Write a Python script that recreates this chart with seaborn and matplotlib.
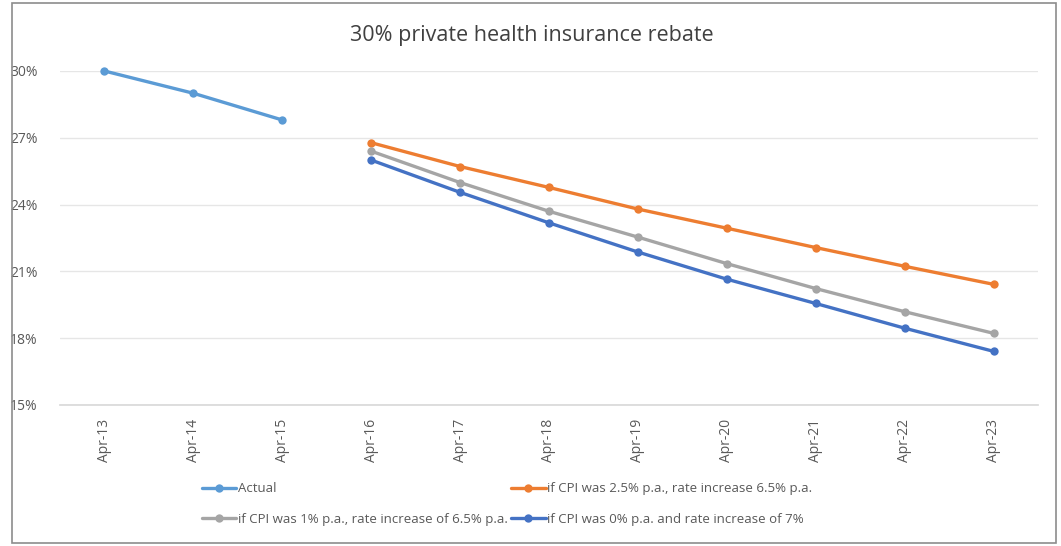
import numpy as np
import pandas as pd
import matplotlib
matplotlib.use("Agg")
import matplotlib.pyplot as plt
import seaborn as sns
from matplotlib.patches import Rectangle

categories = ["Apr-13", "Apr-14", "Apr-15", "Apr-16", "Apr-17", "Apr-18",
              "Apr-19", "Apr-20", "Apr-21", "Apr-22", "Apr-23"]
actual = [30.0, 29.0, 27.8, None, None, None, None, None, None, None, None]
cpi_25 = [None, None, None, 26.78, 25.71, 24.77, 23.8, 22.94, 22.07, 21.23, 20.42]
cpi_1 = [None, None, None, 26.4, 24.99, 23.7, 22.54, 21.35, 20.23, 19.19, 18.22]
cpi_0 = [None, None, None, 26.0, 24.55, 23.18, 21.87, 20.65, 19.56, 18.45, 17.41]

series_names = ["Actual",
                "if CPI was 2.5% p.a., rate increase 6.5% p.a.",
                "if CPI was 1% p.a., rate increase of 6.5% p.a.",
                "if CPI was 0% p.a. and rate increase of 7%"]
series_values = [actual, cpi_25, cpi_1, cpi_0]
colors = ["#5B9BD5", "#ED7D31", "#A5A5A5", "#4472C4"]
y_ticks = [15, 18, 21, 24, 27, 30]

sns.set_theme(style="white")
plt.rcParams['font.family'] = ['Open Sans', 'DejaVu Sans']

W, H = 1061, 546
fig = plt.figure(figsize=(W / 100, H / 100), dpi=100)
ax = fig.add_axes([60 / W, 1 - 405 / H, (1038 - 60) / W, (405 - 71) / H])

for name, vals, col in zip(series_names, series_values, colors):
    df = pd.DataFrame({"x": np.arange(len(categories)), "y": vals}).dropna()
    sns.lineplot(data=df, x="x", y="y", ax=ax, color=col, linewidth=2.4,
                 marker="o", markersize=6, markeredgewidth=0, label=name,
                 clip_on=False)

ax.set_xlim(-0.5, len(categories) - 0.5)
ax.set_ylim(15, 30)
ax.set_yticks(y_ticks)
ax.set_yticklabels([f"{v}%" for v in y_ticks], color="#595959", fontsize=10)
ax.set_xticks(np.arange(len(categories)))
ax.set_xticklabels(categories, rotation=90, color="#595959", fontsize=10)
ax.set_xticks(np.arange(len(categories) + 1) - 0.5, minor=True)
ax.tick_params(axis="x", which="major", length=0, pad=10)
ax.tick_params(axis="x", which="minor", length=5, color="#D9D9D9", width=1, direction="out")
ax.tick_params(axis="y", length=0, pad=16)
ax.set_xlabel("")
ax.set_ylabel("")
ax.grid(axis="y", color="#E6E6E6", linewidth=1)
ax.set_axisbelow(True)
for s in ["top", "right", "left"]:
    ax.spines[s].set_visible(False)
ax.spines["bottom"].set_color("#D9D9D9")

fig.text(532 / W, 1 - 35 / H, "30% private health insurance rebate",
         ha="center", va="center", fontsize=15.5, color="#404040")

handles, labels = ax.get_legend_handles_labels()
order = [0, 2, 1, 3]
ax.legend([handles[i] for i in order], [labels[i] for i in order], ncol=2,
          loc="center left",
          bbox_to_anchor=(190 / W, 1 - 504 / H), bbox_transform=fig.transFigure,
          frameon=False, fontsize=9.5, labelcolor="#595959", handlelength=2.6,
          handletextpad=0.1, columnspacing=0.3, labelspacing=1.3)

fig.patches.append(Rectangle((12 / W, 3 / H), (1056 - 12) / W, (543 - 3) / H,
                             transform=fig.transFigure, fill=False,
                             edgecolor="#8C8C8C", linewidth=1.2))

fig.savefig("out.png", dpi=100)
